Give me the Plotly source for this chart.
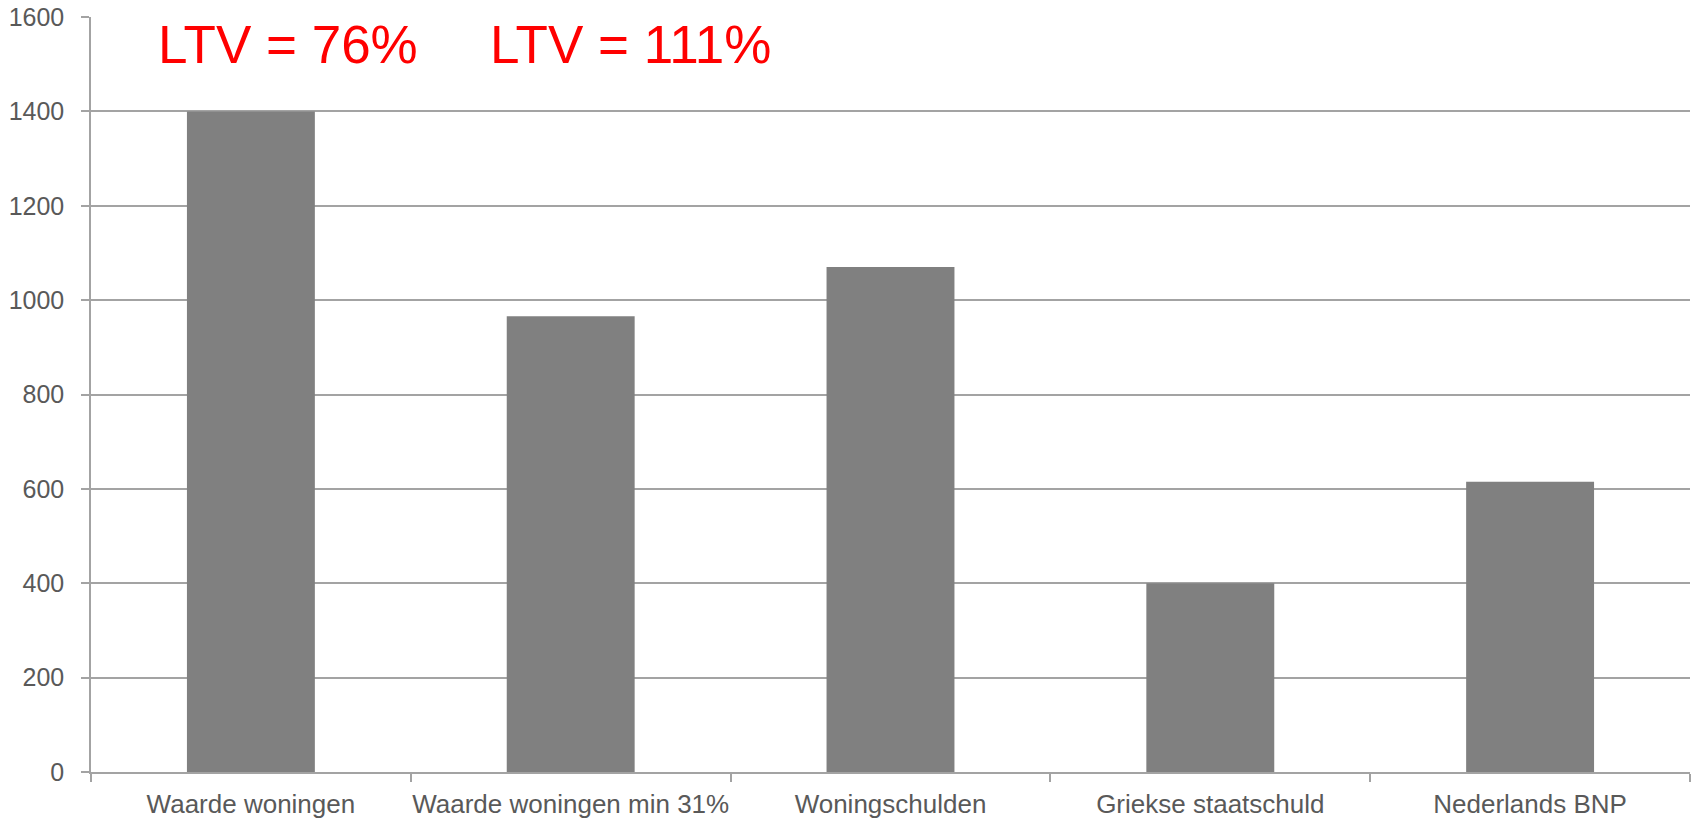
import plotly.graph_objects as go

categories = ["Waarde woningen", "Waarde woningen min 31%", "Woningschulden",
              "Griekse staatschuld", "Nederlands BNP"]
values = [1400, 966, 1070, 400, 615]
y_ticks = [0, 200, 400, 600, 800, 1000, 1200, 1400, 1600]
ltv_labels = ["LTV = 76%", "LTV = 111%"]

FONT = "Liberation Sans, Arial, sans-serif"
GRID = "#a3a3a3"

fig = go.Figure(go.Bar(x=categories, y=values, marker=dict(color="#808080", line=dict(width=0)),
                       hoverinfo="x+y"))

ltv_x = [0.0405, 0.248]
for txt, xp in zip(ltv_labels, ltv_x):
    fig.add_annotation(text=txt, x=xp, xref="paper", y=1542, yref="y",
                       xanchor="left", yanchor="middle", showarrow=False,
                       font=dict(family=FONT, size=53, color="#ff0000"))

fig.update_layout(
    width=1691, height=819,
    margin=dict(l=91, r=1, t=17, b=47, autoexpand=False),
    paper_bgcolor="white", plot_bgcolor="white",
    bargap=0.6, showlegend=False,
    font=dict(family=FONT, color="#595959"),
)
fig.update_xaxes(
    type="category", tickson="boundaries", ticks="outside", ticklen=8, tickwidth=1.5,
    tickcolor=GRID, showline=True, linecolor=GRID, linewidth=1.5, showgrid=False,
    tickfont=dict(family=FONT, size=26, color="#595959"), ticklabelstandoff=8,
    tickangle=0, automargin=False,
)
fig.update_yaxes(
    range=[0, 1600], tickvals=y_ticks, ticks="outside", ticklen=8, tickwidth=1.5,
    tickcolor=GRID, showline=True, linecolor=GRID, linewidth=1.5,
    showgrid=True, gridcolor=GRID, gridwidth=1.5, zeroline=False,
    tickfont=dict(family=FONT, size=25, color="#595959"), ticklabelstandoff=12,
    automargin=False,
)

fig.write_html("out.html")
